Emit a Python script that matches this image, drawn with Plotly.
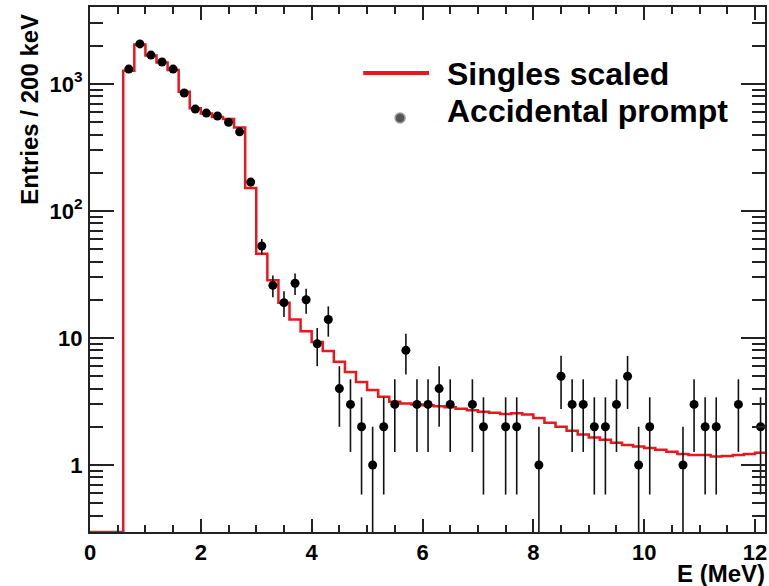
import numpy as np
import plotly.graph_objects as go

# ---- data ----
bin_start = 0.0
bin_width = 0.2  # MeV (200 keV)

singles_scaled = [
    0, 0, 0, 1270, 2050, 1680, 1480, 1290, 870, 645,
    585, 550, 530, 455, 152, 46, 28.5, 19, 14, 11.3,
    9.3, 7.9, 6.5, 5.4, 4.5, 3.9, 3.45, 3.15, 3.05, 3.0,
    2.95, 2.9, 2.85, 2.78, 2.7, 2.63, 2.58, 2.52, 2.56, 2.5,
    2.35, 2.15, 2.0, 1.86, 1.74, 1.65, 1.58, 1.5, 1.44, 1.4,
    1.36, 1.32, 1.27, 1.22, 1.2, 1.2, 1.17, 1.18, 1.2, 1.22,
    1.25,
]

accidental_prompt = [
    0, 0, 0, 1310, 2070, 1690, 1490, 1310, 850, 635,
    590, 560, 500, 420, 169, 53, 26, 19, 27, 20,
    9, 14, 4, 3, 2, 1, 2, 3, 8, 3,
    3, 4, 3, 0, 3, 2, 0, 2, 2, 0,
    1, 0, 5, 3, 3, 2, 2, 3, 5, 1,
    2, 0, 0, 1, 3, 2, 2, 0, 3, 0,
    2,
]

x_ticks = [0, 2, 4, 6, 8, 10, 12]
y_ticks = [1, 10, 100, 1000]
y_tick_labels = ["1", "10", "10<sup>2</sup>", "10<sup>3</sup>"]

# ---- derived ----
n = len(singles_scaled)
y_min, y_max = 0.297, 4040.0
x_min, x_max = 0.0, 12.18
left_edges = [bin_start + bin_width * i for i in range(n)]
centers = [e + bin_width / 2 for e in left_edges]

# step line (zero bins drawn at the bottom of the frame, ROOT style)
s_vals = [v if v > 0 else y_min for v in singles_scaled]
step_x = left_edges + [left_edges[-1] + bin_width]
step_y = s_vals + [s_vals[-1]]

acc = np.array(accidental_prompt, dtype=float)
mask = acc > 0
pts_x = np.array(centers)[mask]
pts_y = acc[mask]
pts_err = np.sqrt(pts_y)

FONT = "Liberation Sans"
RED = "#e8181c"

fig = go.Figure()
fig.add_trace(go.Scatter(
    x=step_x, y=step_y, mode="lines", line_shape="hv",
    line=dict(color=RED, width=2.5), name="Singles scaled", showlegend=False,
))
fig.add_trace(go.Scatter(
    x=pts_x, y=pts_y, mode="markers",
    marker=dict(color="black", size=9),
    error_y=dict(type="data", array=pts_err, color="#111111", thickness=1.6, width=0),
    name="Accidental prompt", showlegend=False,
))

# ---- layout ----
L, R, T, B = 90, 2, 7, 54
W, H = 769, 586
pw, ph = W - L - R, H - T - B


def px(xp):
    return (xp - L) / pw


def py(yp):
    return (H - B - yp) / ph


minor_y = [m * 10 ** d for d in range(-1, 4) for m in range(2, 10)]
minor_y = [v for v in minor_y if y_min < v < y_max]

fig.update_layout(
    width=W, height=H,
    margin=dict(l=L, r=R, t=T, b=B),
    paper_bgcolor="white", plot_bgcolor="white",
    font=dict(family=FONT, color="black"),
    xaxis=dict(
        range=[x_min, x_max], showgrid=False, zeroline=False,
        showline=True, linecolor="#222222", linewidth=2, mirror="allticks",
        ticks="inside", ticklen=13, tickwidth=1.5, tickcolor="#222222",
        tickvals=x_ticks,
        tickfont=dict(family=FONT, size=22, weight="bold"),
        ticklabelstandoff=0,
        minor=dict(ticks="inside", ticklen=7, tickwidth=1.5, tickcolor="#222222", dtick=0.5),
    ),
    yaxis=dict(
        type="log", range=[np.log10(y_min), np.log10(y_max)],
        showgrid=False, zeroline=False,
        showline=True, linecolor="#222222", linewidth=2, mirror="allticks",
        ticks="inside", ticklen=24, tickwidth=1.5, tickcolor="#222222",
        tickvals=y_ticks, ticktext=y_tick_labels,
        tickfont=dict(family=FONT, size=22, weight="bold"),
        ticklabelstandoff=1,
        minor=dict(ticks="inside", ticklen=13, tickwidth=1.5, tickcolor="#222222",
                   tickvals=minor_y),
    ),
    showlegend=False,
)

# axis titles (ROOT style: aligned to the ends of the axes)
fig.add_annotation(
    text="<b>Entries / 200 keV</b>", textangle=-90,
    xref="paper", yref="paper", x=px(29), y=py(12),
    xanchor="center", yanchor="top", showarrow=False,
    font=dict(family=FONT, size=24, color="black"),
)
fig.add_annotation(
    text="<b>E (MeV)</b>",
    xref="paper", yref="paper", x=px(768), y=py(573),
    xanchor="right", yanchor="middle", showarrow=False, borderpad=0,
    font=dict(family=FONT, size=24, color="black"),
)

# legend (drawn manually to match the long line sample)
fig.add_shape(type="line", xref="paper", yref="paper",
              x0=px(364), x1=px(430), y0=py(73), y1=py(73),
              line=dict(color=RED, width=4))
fig.add_shape(type="circle", xref="paper", yref="paper",
              xsizemode="pixel", ysizemode="pixel",
              xanchor=px(401), yanchor=py(118), x0=-5, x1=5, y0=-5, y1=5,
              fillcolor="#555555", line=dict(color="#9a9a9a", width=1.5))
fig.add_annotation(
    text="<b>Singles scaled</b>", xref="paper", yref="paper",
    x=px(446), y=py(74), xanchor="left", yanchor="middle", showarrow=False,
    font=dict(family=FONT, size=32, color="black"),
)
fig.add_annotation(
    text="<b>Accidental prompt</b>", xref="paper", yref="paper",
    x=px(446), y=py(111), xanchor="left", yanchor="middle", showarrow=False,
    font=dict(family=FONT, size=32, color="black"),
)

fig.write_html("out.html")
